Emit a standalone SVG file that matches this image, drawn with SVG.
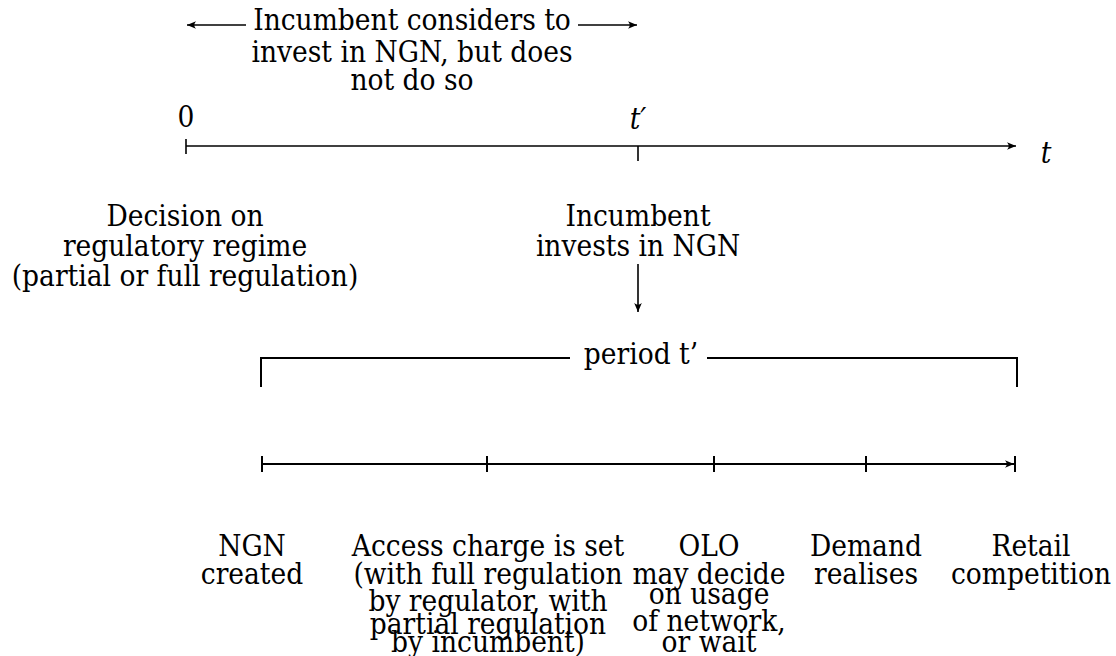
<svg xmlns="http://www.w3.org/2000/svg" width="1116" height="656" viewBox="0 0 1116 656">
<style>
text{font-family:"DejaVu Serif",serif;font-stretch:condensed;font-size:29.5px;fill:#000;text-anchor:middle}
.it{font-style:italic}
.ln{stroke:#000;fill:none;stroke-width:1.6}
.th{stroke:#000;fill:none;stroke-width:2}
</style>
<defs>
<marker id="ah" markerUnits="userSpaceOnUse" markerWidth="12" markerHeight="10" viewBox="-10 -5 12 10" refX="0" refY="0" orient="auto">
<path d="M0,0 L-9,-3.8 Q-5.5,0 -9,3.8 Z" fill="#000"/>
</marker>
</defs>
<rect width="1116" height="656" fill="#fff"/>
<g id="connectors">
<line class="ln" x1="246" y1="25" x2="187" y2="25" marker-end="url(#ah)"/>
<line class="ln" x1="578" y1="25" x2="637" y2="25" marker-end="url(#ah)"/>
<line class="ln" x1="186" y1="146" x2="1016" y2="146" marker-end="url(#ah)"/>
<line class="ln" x1="186" y1="139" x2="186" y2="154"/>
<line class="ln" x1="638" y1="146" x2="638" y2="161"/>
<line class="ln" x1="638" y1="264" x2="638" y2="312" marker-end="url(#ah)"/>
<path class="th" d="M261,387 V358 H570 M707,358 H1017 V387"/>
<line class="th" x1="262" y1="464" x2="1014" y2="464" marker-end="url(#ah)"/>
<line class="th" x1="262" y1="456" x2="262" y2="472"/>
<line class="th" x1="487" y1="456" x2="487" y2="472"/>
<line class="th" x1="714" y1="456" x2="714" y2="472"/>
<line class="th" x1="866" y1="456" x2="866" y2="472"/>
<line class="th" x1="1015" y1="456" x2="1015" y2="472"/>
</g>
<g id="consider">
<text x="412" y="30">Incumbent considers to</text>
<text x="412" y="62">invest in NGN, but does</text>
<text x="412" y="90">not do so</text>
</g>
<g id="zero"><text x="186" y="127">0</text></g>
<g id="tprime"><text class="it" x="638" y="129">t′</text></g>
<g id="taxis"><text class="it" x="1046" y="163">t</text></g>
<g id="decision">
<text x="185" y="226">Decision on</text>
<text x="185" y="256">regulatory regime</text>
<text x="185" y="286">(partial or full regulation)</text>
</g>
<g id="invests">
<text x="638" y="226">Incumbent</text>
<text x="638" y="256">invests in NGN</text>
</g>
<g id="period"><text x="641" y="364">period t’</text></g>
<g id="ngn">
<text x="252" y="556">NGN</text>
<text x="252" y="584">created</text>
</g>
<g id="access">
<text x="488" y="556">Access charge is set</text>
<text x="488" y="584">(with full regulation</text>
<text x="488" y="611">by regulator, with</text>
<text x="488" y="634">partial regulation</text>
<text x="488" y="652">by incumbent)</text>
</g>
<g id="olo">
<text x="709" y="556">OLO</text>
<text x="709" y="584">may decide</text>
<text x="709" y="604">on usage</text>
<text x="709" y="631">of network,</text>
<text x="709" y="652">or wait</text>
</g>
<g id="demand">
<text x="866" y="556">Demand</text>
<text x="866" y="584">realises</text>
</g>
<g id="retail">
<text x="1031" y="556">Retail</text>
<text x="1031" y="584">competition</text>
</g>
</svg>
